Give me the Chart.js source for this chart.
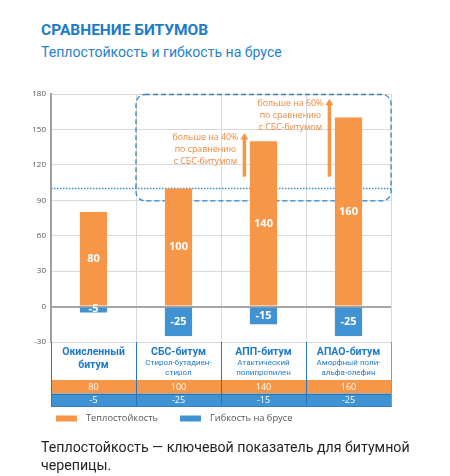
<!DOCTYPE html>
<html>
<head>
<meta charset="utf-8">
<script src="https://cdn.jsdelivr.net/npm/chart.js@4"></script>
<style>
  html, body { margin: 0; padding: 0; background: #fff; }
  body { width: 450px; height: 476px; position: relative; overflow: hidden; font-family: "Open Sans", "Noto Sans", sans-serif; }
  #c { position: absolute; left: 0; top: 0; }
  .t { position: absolute; white-space: nowrap; font-family: Roboto, "Open Sans", sans-serif; }
  #title { left: 41px; top: 20px; font-size: 15.5px; font-weight: bold; color: #1b7bc6; line-height: 20px; }
  #subtitle { left: 41px; top: 43px; font-size: 14.1px; color: #2683ca; line-height: 18px; }
  #footer { left: 41px; top: 437.5px; font-size: 14.2px; color: #231f20; line-height: 18px; }
</style>
</head>
<body>
<div class="t" id="title">СРАВНЕНИЕ БИТУМОВ</div>
<div class="t" id="subtitle">Теплостойкость и гибкость на брусе</div>
<canvas id="c" width="450" height="476"></canvas>
<div class="t" id="footer">Теплостойкость — ключевой показатель для битумной<br>черепицы.</div>
<script>
// ---- data ----
const categoryNames = [['Окисленный', 'битум'], ['СБС-битум'], ['АПП-битум'], ['АПАО-битум']];
const categorySubs = [[], ['Стирол-бутадиен-', 'стирол'], ['Атактический', 'полипропилен'], ['Аморфный поли-', 'альфа-олефин']];
const heatResistance = [80, 100, 140, 160];
const flexibility = [-5, -25, -15, -25];
const seriesNames = ['Теплостойкость', 'Гибкость на брусе'];
const yMin = -30, yMax = 180, yStep = 30;
const referenceLevel = 100;
const highlightRange = [90, 180];
const annotationTexts = [
  ['больше на 40%', 'по сравнению', 'с СБС-битумом'],
  ['больше на 60%', 'по сравнению', 'с СБС-битумом']
];
const annotationCats = [2, 3];
const annotationFrom = [110, 110];
const annotationTo = [147, 176];

// ---- styles ----
const ORANGE = '#f79646';
const BLUE = '#3f93d2';
const DARKBLUE = '#2b74b8';
const TEXTBLUE = '#1f7bc8';
const FONT = '"Open Sans", "Noto Sans", sans-serif';
const RFONT = 'Roboto, "Open Sans", sans-serif';

const labels = categoryNames.map(n => n.join(' '));

const overlayPlugin = {
  id: 'overlay',
  beforeDatasetsDraw(chart) {
    const ctx = chart.ctx, xs = chart.scales.x, ys = chart.scales.y, ca = chart.chartArea;
    ctx.save();
    // dotted reference line
    ctx.strokeStyle = '#3a8fd3';
    ctx.lineWidth = 1.5;
    ctx.setLineDash([1.5, 1.5]);
    const yr = Math.round(ys.getPixelForValue(referenceLevel)) + 0.5;
    ctx.beginPath(); ctx.moveTo(ca.left, yr); ctx.lineTo(ca.right, yr); ctx.stroke();
    // dashed rounded rect
    const x0 = xs.getPixelForValue(0.5), x1 = xs.getPixelForValue(labels.length - 0.5);
    const y0 = ys.getPixelForValue(highlightRange[1]), y1 = ys.getPixelForValue(highlightRange[0]);
    ctx.strokeStyle = '#2e84c6';
    ctx.lineWidth = 1.3;
    ctx.setLineDash([5, 3]);
    ctx.beginPath();
    ctx.roundRect(x0, y0 + 0.5, x1 - x0, y1 - y0, 9);
    ctx.stroke();
    ctx.restore();
  },
  afterDatasetsDraw(chart) {
    const ctx = chart.ctx, ys = chart.scales.y;
    ctx.save();
    // bar value labels
    ctx.fillStyle = '#fff';
    ctx.font = 'bold 11px ' + FONT;
    ctx.textAlign = 'center';
    ctx.textBaseline = 'middle';
    chart.data.datasets.forEach((ds, di) => {
      chart.getDatasetMeta(di).data.forEach((bar, i) => {
        let ym = (bar.y + bar.base) / 2;
        if (Math.abs(bar.y - bar.base) < 12) ym = bar.base + 1;
        ctx.fillText(String(ds.data[i]), bar.x, ym);
      });
    });
    // annotations with arrows
    annotationCats.forEach((c, k) => {
      const bar = chart.getDatasetMeta(0).data[c];
      const ax = bar.x - bar.width / 2 - 5.5;
      const yb = ys.getPixelForValue(annotationFrom[k]);
      const yt = ys.getPixelForValue(annotationTo[k]);
      ctx.fillStyle = ORANGE;
      ctx.fillRect(ax - 1.75, yt + 5, 3.5, yb - yt - 5);
      ctx.beginPath();
      ctx.moveTo(ax, yt); ctx.lineTo(ax + 4, yt + 6.5); ctx.lineTo(ax - 4, yt + 6.5); ctx.closePath();
      ctx.fill();
      ctx.fillStyle = '#f0883e';
      ctx.font = '8.8px ' + FONT;
      ctx.textAlign = 'center';
      annotationTexts[k].forEach((line, li) => {
        ctx.fillText(line, ax - 39, yt + 4.5 + li * 12);
      });
    });
    ctx.restore();
  },
  afterDraw(chart) {
    const ctx = chart.ctx, xs = chart.scales.x, ca = chart.chartArea;
    const n = labels.length;
    const top = ca.bottom;
    const rowLabelH = 38, rowH = 13.5;
    const yO = top + rowLabelH, yB = yO + rowH, yE = yB + rowH;
    ctx.save();
    // colored value rows
    ctx.fillStyle = ORANGE;
    ctx.fillRect(ca.left, yO, ca.right - ca.left, rowH);
    ctx.fillStyle = BLUE;
    ctx.fillRect(ca.left, yB, ca.right - ca.left, rowH);
    // lines
    ctx.lineWidth = 1;
    for (let i = 0; i <= n; i++) {
      const x = Math.round(xs.getPixelForValue(i - 0.5)) + 0.5;
      ctx.strokeStyle = (i === n) ? '#5aa5dc' : DARKBLUE;
      ctx.beginPath(); ctx.moveTo(x, top); ctx.lineTo(x, yE); ctx.stroke();
    }
    ctx.strokeStyle = DARKBLUE;
    ctx.beginPath(); ctx.moveTo(ca.left, Math.round(yB) + 0.5); ctx.lineTo(ca.right, Math.round(yB) + 0.5); ctx.stroke();
    ctx.strokeStyle = '#2f80c4';
    ctx.beginPath(); ctx.moveTo(ca.left, Math.round(yE) - 0.5); ctx.lineTo(ca.right, Math.round(yE) - 0.5); ctx.stroke();
    // category labels
    ctx.textAlign = 'center';
    ctx.textBaseline = 'middle';
    for (let i = 0; i < n; i++) {
      const cx = xs.getPixelForValue(i);
      ctx.fillStyle = TEXTBLUE;
      ctx.font = 'bold 10.5px ' + RFONT;
      categoryNames[i].forEach((l, li) => ctx.fillText(l, cx, top + 10 + li * 13));
      ctx.font = '8px ' + RFONT;
      categorySubs[i].forEach((l, li) => ctx.fillText(l, cx, top + 20.5 + li * 10));
      // values
      ctx.fillStyle = '#fff';
      ctx.font = '9px ' + FONT;
      ctx.fillText(String(heatResistance[i]), cx, yO + rowH / 2 + 0.5);
      ctx.fillText(String(flexibility[i]), cx, yB + rowH / 2 + 0.5);
    }
    // legend
    const legX = [56, 180];
    const legY = 418.5;
    chart.data.datasets.forEach((ds, di) => {
      ctx.fillStyle = ds.backgroundColor;
      ctx.fillRect(legX[di], legY - 3, 21, 6);
      ctx.fillStyle = '#555';
      ctx.font = '9.3px ' + FONT;
      ctx.textAlign = 'left';
      ctx.fillText(ds.label, legX[di] + 30, legY);
    });
    ctx.restore();
  }
};

new Chart(document.getElementById('c'), {
  type: 'bar',
  data: {
    labels: labels,
    datasets: [
      { label: seriesNames[0], data: heatResistance, backgroundColor: ORANGE },
      { label: seriesNames[1], data: flexibility, backgroundColor: BLUE }
    ]
  },
  options: {
    responsive: false,
    animation: false,
    devicePixelRatio: 1,
    layout: { padding: { left: 0, right: 59, top: 94, bottom: 134 } },
    datasets: { bar: { categoryPercentage: 1, barPercentage: 0.32 } },
    plugins: { legend: { display: false }, tooltip: { enabled: false } },
    scales: {
      x: {
        stacked: true,
        grid: { offset: true, color: '#d9d9d9', drawTicks: false, lineWidth: 1 },
        border: { display: false },
        ticks: { display: false },
        afterFit(s) { s.height = 0; }
      },
      y: {
        stacked: true,
        min: yMin, max: yMax,
        ticks: { stepSize: yStep, color: '#555', font: { size: 8, family: FONT }, padding: 5 },
        grid: {
          drawTicks: false,
          color: ctx => ctx.tick && ctx.tick.value === 0 ? '#a5a5a5' : '#d9d9d9',
          lineWidth: ctx => ctx.tick && ctx.tick.value === 0 ? 2 : 1
        },
        border: { color: '#a0a0a0', width: 2 },
        afterFit(s) { s.width = 51; }
      }
    }
  },
  plugins: [overlayPlugin]
});
</script>
</body>
</html>
